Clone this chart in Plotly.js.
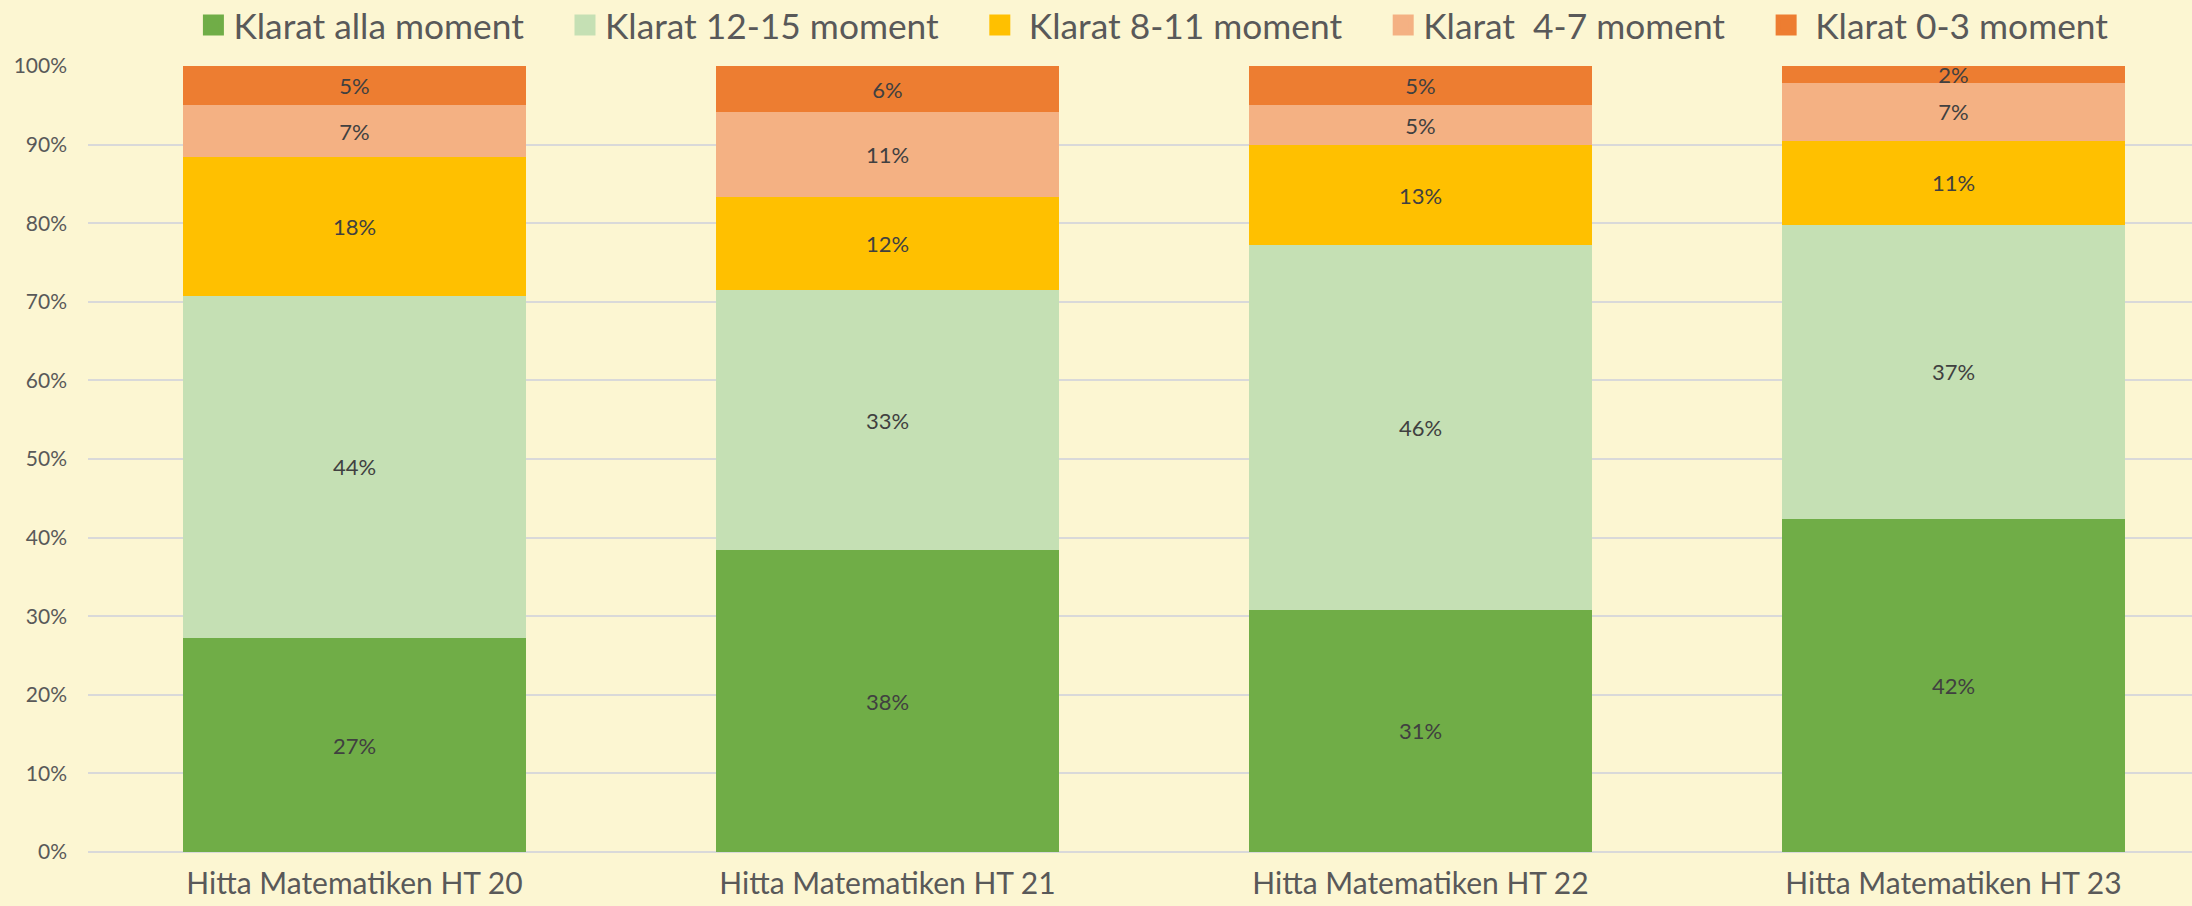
<!DOCTYPE html>
<html>
<head>
<meta charset="utf-8">
<script src="https://cdn.plot.ly/plotly-3.0.1.min.js"></script>
<style>
  html, body { margin: 0; padding: 0; background: #FCF6D2; overflow: hidden; }
  #chart { width: 2192px; height: 906px; }
</style>
</head>
<body>
<div id="chart"></div>
<script>
// ---- data (percent of pupils) ----
const categories = ['Hitta Matematiken HT 20', 'Hitta Matematiken HT 21', 'Hitta Matematiken HT 22', 'Hitta Matematiken HT 23'];
const seriesNames = ['Klarat alla moment', 'Klarat 12-15 moment', '\u00a0Klarat 8-11 moment', 'Klarat\u00a0 4-7 moment', '\u00a0Klarat 0-3 moment'];
const allaMoment   = [27.2, 38.4, 30.8, 42.4];
const moment12_15  = [43.6, 33.1, 46.4, 37.4];
const moment8_11   = [17.6, 11.8, 12.7, 10.7];
const moment4_7    = [6.6, 10.8, 5.1, 7.3];
const moment0_3    = [5.0, 5.9, 5.0, 2.2];
const yTicks = [0, 10, 20, 30, 40, 50, 60, 70, 80, 90, 100];

const seriesValues = [allaMoment, moment12_15, moment8_11, moment4_7, moment0_3];
const colors = ['#70AD47', '#C5E0B4', '#FFC000', '#F4B183', '#ED7D31'];

const FONT = 'Lato, "Liberation Sans", Arial, sans-serif';
const pad = '\u00a0'.repeat(4);

const traces = [];
seriesValues.forEach((vals, i) => {
  traces.push({
    type: 'bar',
    x: categories,
    y: vals,
    name: seriesNames[i],
    legendgroup: 'g' + i,
    showlegend: false,
    marker: { color: colors[i], line: { width: 0 } },
    texttemplate: '%{y:.0f}%',
    textposition: 'inside',
    insidetextanchor: 'middle',
    textangle: 0,
    constraintext: 'none',
    cliponaxis: false,
    textfont: { family: FONT, size: 22, color: '#404040' },
    hoverinfo: 'skip'
  });
});
// legend proxies (larger square symbols)
seriesValues.forEach((vals, i) => {
  traces.push({
    type: 'scatter',
    mode: 'markers',
    x: [null], y: [null],
    name: seriesNames[i] + pad,
    legendgroup: 'g' + i,
    showlegend: true,
    marker: { symbol: 'square', size: 16, color: colors[i], line: { color: colors[i], width: 5 } },
    hoverinfo: 'skip'
  });
});

const layout = {
  width: 2192,
  height: 906,
  paper_bgcolor: '#FCF6D2',
  plot_bgcolor: '#FCF6D2',
  barmode: 'stack',
  bargap: 0.355,
  margin: { l: 88, r: 0, t: 66, b: 54, pad: 0, autoexpand: false },
  font: { family: FONT, color: '#595959' },
  showlegend: true,
  legend: {
    orientation: 'h',
    xref: 'paper', yref: 'paper',
    x: 0.0501, xanchor: 'left',
    y: 1.0522, yanchor: 'middle',
    font: { family: FONT, size: 35.3, color: '#595959' },
    bgcolor: 'rgba(0,0,0,0)',
    traceorder: 'normal'
  },
  xaxis: {
    type: 'category',
    range: [-0.5, -0.5 + (2192 - 88) / 533],
    showgrid: false,
    zeroline: false,
    showline: false,
    ticks: '',
    tickfont: { family: FONT, size: 30, color: '#595959' },
    ticklabelstandoff: 11,
    fixedrange: true
  },
  yaxis: {
    range: [0, 100],
    tickvals: yTicks,
    ticktext: yTicks.map(v => v + '%'),
    showgrid: true,
    gridcolor: '#D9D9D9',
    gridwidth: 2,
    zeroline: true,
    zerolinecolor: '#D9D9D9',
    zerolinewidth: 2,
    showline: false,
    ticks: '',
    tickfont: { family: FONT, size: 21, color: '#595959' },
    ticklabelstandoff: 20,
    fixedrange: true
  }
};

Plotly.newPlot('chart', traces, layout, { displayModeBar: false, staticPlot: true });
</script>
</body>
</html>
